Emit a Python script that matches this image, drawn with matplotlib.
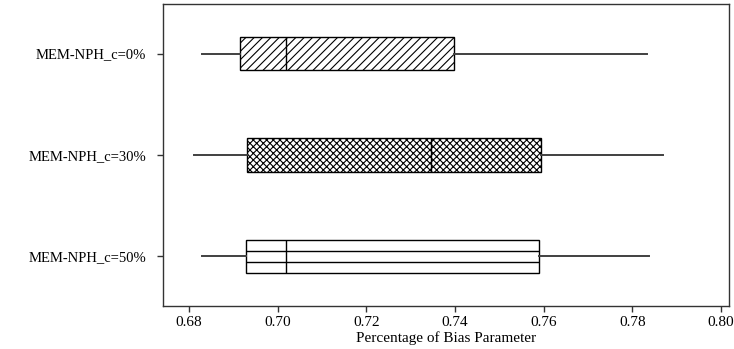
import matplotlib
matplotlib.use("Agg")
import matplotlib.pyplot as plt

labels = ["MEM-NPH_c=0%", "MEM-NPH_c=30%", "MEM-NPH_c=50%"]
whisk_lo = [0.6829, 0.6810, 0.6829]
q1 = [0.6915, 0.6931, 0.6929]
median = [0.7019, 0.7345, 0.7019]
q3 = [0.7398, 0.7593, 0.7590]
whisk_hi = [0.7834, 0.7869, 0.7837]
hatches = ["////", "xxxxx", ""]

plt.rcParams["font.family"] = ["Liberation Serif", "DejaVu Serif"]
plt.rcParams["hatch.linewidth"] = 0.8

fig = plt.figure(figsize=(7.34, 3.49), dpi=100)
fig.set_facecolor("white")
ax = fig.add_axes([0.222, 0.123, 0.771, 0.866])

stats = []
for i in range(len(labels)):
    stats.append({"whislo": whisk_lo[i], "q1": q1[i], "med": median[i],
                  "q3": q3[i], "whishi": whisk_hi[i], "label": labels[i]})

pos = [1, 2, 3]
w = 0.33
bp = ax.bxp(stats, positions=pos, widths=w, orientation="horizontal",
            showfliers=False, showcaps=False, patch_artist=True,
            boxprops=dict(facecolor="white", edgecolor="black", linewidth=1.0),
            medianprops=dict(color="black", linewidth=1.0),
            whiskerprops=dict(color="#404040", linewidth=1.4))
for box, h in zip(bp["boxes"], hatches):
    box.set_hatch(h)

# horizontal stripes in the last box
ax.hlines([pos[2] - w / 6, pos[2] + w / 6], q1[2], q3[2], color="black", lw=1.0)

ax.set_ylim(3.49, 0.51)
ax.set_xlim(0.6741, 0.8018)
ax.set_xticks([0.68, 0.70, 0.72, 0.74, 0.76, 0.78, 0.80])
ax.set_xticklabels(["0.68", "0.70", "0.72", "0.74", "0.76", "0.78", "0.80"])
ax.set_yticks(pos)
ax.set_yticklabels(labels)
ax.tick_params(axis="x", labelsize=11, length=4, width=1, color="#333333")
ax.tick_params(axis="y", labelsize=10.5, length=4, width=1, color="#333333", pad=8)
ax.set_xlabel("Percentage of Bias Parameter", fontsize=11, labelpad=1)
for s in ax.spines.values():
    s.set_color("#333333")
    s.set_linewidth(1.0)

fig.savefig("out.png", dpi=100, facecolor="white")
